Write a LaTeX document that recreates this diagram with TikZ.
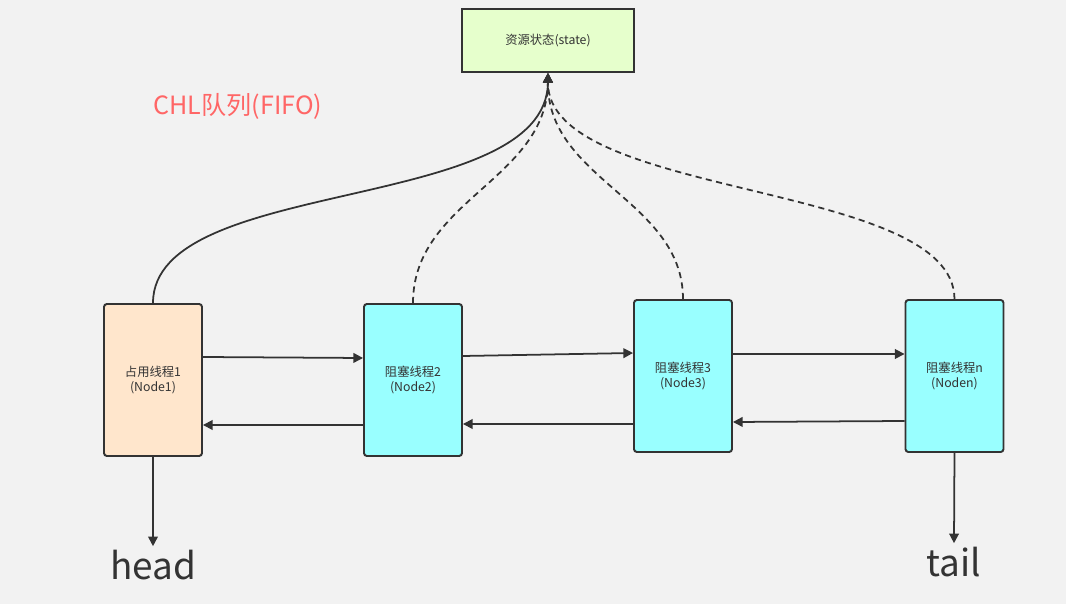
\documentclass[tikz,border=0pt]{standalone}
\usepackage{fontspec}
\setmainfont{Noto Sans CJK SC}
\usetikzlibrary{arrows.meta,positioning,calc}
\definecolor{bgc}{HTML}{F2F2F2}
\definecolor{ink}{HTML}{333333}
\definecolor{stc}{HTML}{E6FFCC}
\definecolor{hdc}{HTML}{FFE6CC}
\definecolor{blc}{HTML}{99FFFF}
\definecolor{rdc}{HTML}{FF6666}

\begin{document}
\begin{tikzpicture}[x=0.02cm,y=-0.02cm,
	thr/.style={draw=ink,line width=1.1pt,rounded corners=1.6pt,minimum width=1.96cm,
		minimum height=3.04cm,align=center,font=\fontsize{7}{8.5}\selectfont,text=ink},
	arr/.style={draw=ink,line width=1pt,-{Triangle[length=5.5pt,width=5.5pt]}},
	dsh/.style={arr,dash pattern=on 3.5pt off 2.5pt}]
	\fill[bgc] (0,0) rectangle (1066,604);
	\useasboundingbox (0,0) rectangle (1066,604);
	\node[draw=ink,line width=1.1pt,fill=stc,minimum width=3.44cm,minimum height=1.26cm,
		font=\fontsize{7}{8.5}\selectfont,text=ink] (0) at (548,40.5) {资源状态(state)};
	\node[thr,fill=hdc] (1) at (153,380) {占用线程1\\(Node1)};
	\node[thr,fill=blc] (2) at (413,380) {阻塞线程2\\(Node2)};
	\node[thr,fill=blc] (3) at (683,376) {阻塞线程3\\(Node3)};
	\node[thr,fill=blc] (4) at (954.5,376) {阻塞线程n\\(Noden)};
	\node[text=rdc,font=\fontsize{14.3}{16}\selectfont] (5) at (238,106) {CHL队列(FIFO)};
	\node[text=ink,font=\fontsize{21}{23}\selectfont,inner sep=2pt] (6) at (153,565) {head};
	\node[text=ink,font=\fontsize{21}{23}\selectfont,inner sep=2pt] (7) at (954,562) {tail};
	% curves to state
	\draw[arr] (1.north) .. controls (153,175) and (547,215) .. (0.south);
	\draw[dsh] (2.north) .. controls (413,200) and (547,180) .. (0.south);
	\draw[dsh] (3.north) .. controls (683,200) and (547,180) .. (0.south);
	\draw[dsh] (4.north) .. controls (954,180) and (547,200) .. (0.south);
	% next / prev
	\draw[arr] ($(1.east)+(0,-23)$) -- ($(2.west)+(0,-22)$);
	\draw[arr] ($(2.west)+(0,45)$) -- ($(1.east)+(0,45)$);
	\draw[arr] ($(2.east)+(0,-24)$) -- ($(3.west)+(0,-23)$);
	\draw[arr] ($(3.west)+(0,48)$) -- ($(2.east)+(0,44)$);
	\draw[arr] ($(3.east)+(0,-22)$) -- ($(4.west)+(0,-22)$);
	\draw[arr] ($(4.west)+(0,45)$) -- ($(3.east)+(0,46)$);
	\draw[arr] (1.south) -- (6.north);
	\draw[arr] (4.south) -- (7.north);
\end{tikzpicture}
\end{document}
